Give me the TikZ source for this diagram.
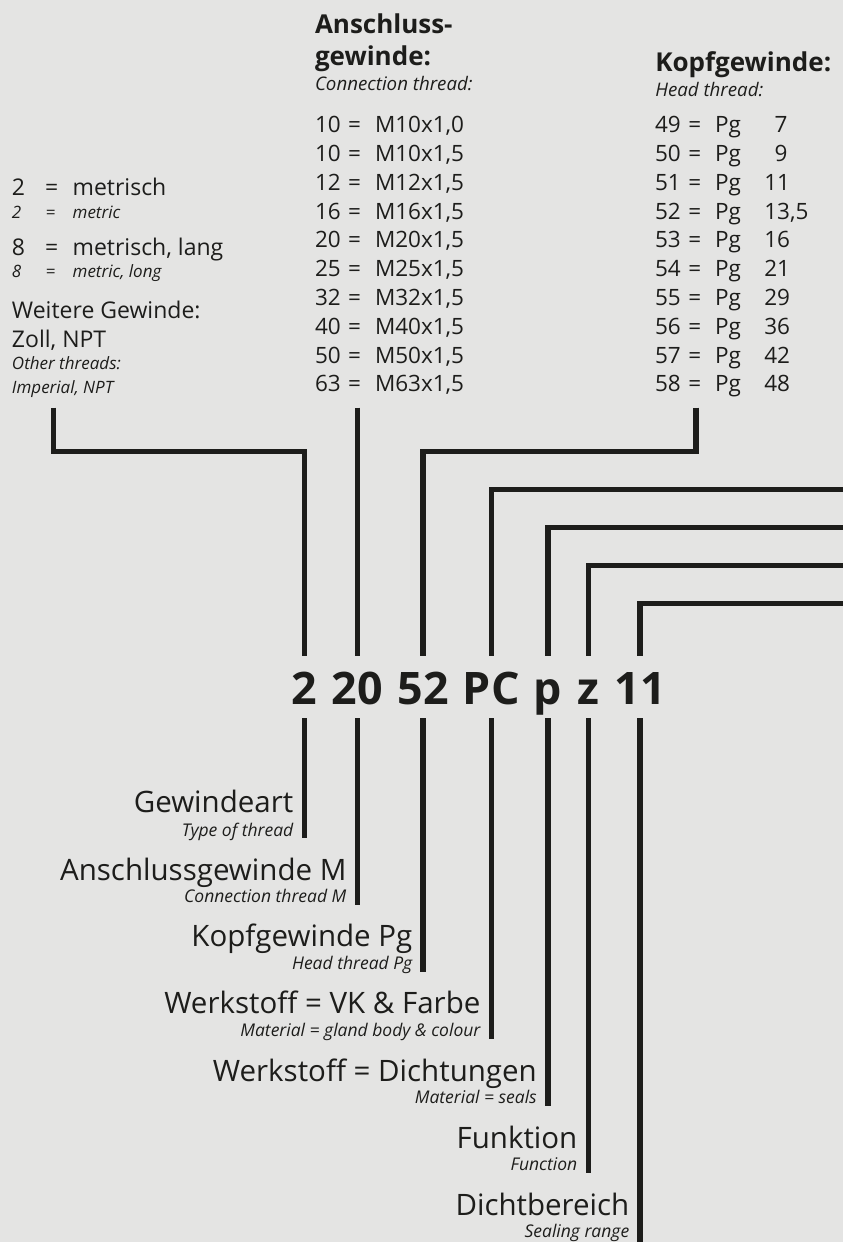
\documentclass[tikz,border=0pt]{standalone}
\usepackage{fontspec}
\setmainfont{Open Sans}
\definecolor{ink}{RGB}{29,29,27}
\definecolor{bgc}{RGB}{228,228,227}
\tikzset{
  conn/.style={draw=ink, line width=5.2pt, line join=miter, line cap=butt},
  txt/.style={inner sep=0pt, outer sep=0pt, text=ink, anchor=base west},
  codetok/.style={inner sep=0pt, text=ink, anchor=base, font=\fontsize{44.8}{50}\selectfont\bfseries},
  head/.style={txt, font=\fontsize{26}{30}\selectfont\bfseries},
  subhead/.style={txt, font=\fontsize{18.7}{22}\selectfont\itshape},
  listtxt/.style={txt, font=\fontsize{22.5}{26}\selectfont},
  leftmain/.style={txt, font=\fontsize{23}{27}\selectfont},
  leftit/.style={txt, font=\fontsize{17}{20}\selectfont\itshape},
  labmain/.style={inner sep=0pt, text=ink, anchor=base east, font=\fontsize{29.5}{33}\selectfont},
  labit/.style={inner sep=0pt, text=ink, anchor=base east, font=\fontsize{17.5}{20}\selectfont\itshape}
}
\begin{document}
\begin{tikzpicture}[x=1pt,y=-1pt]
\fill[bgc] (0,0) rectangle (843,1242);
\useasboundingbox (0,0) rectangle (843,1242);

% ---------- left block ----------
\node[leftmain] (l2a) at (12,195.7) {2};
\node[leftmain] (l2b) at (45,195.7) {=};
\node[leftmain] (l2c) at (72.7,195.7) {metrisch};
\node[leftit] (l2d) at (12,218.3) {2};
\node[leftit] (l2e) at (45.5,218.3) {=};
\node[leftit] (l2f) at (72.7,218.3) {metric};
\node[leftmain] (l8a) at (12,255) {8};
\node[leftmain] (l8b) at (45,255) {=};
\node[leftmain] (l8c) at (72.7,255) {metrisch, lang};
\node[leftit] (l8d) at (12,277.3) {8};
\node[leftit] (l8e) at (45.5,277.3) {=};
\node[leftit] (l8f) at (72.7,277.3) {metric, long};
\node[leftmain] (lw1) at (12,318.3) {Weitere Gewinde:};
\node[leftmain] (lw2) at (12,347.3) {Zoll, NPT};
\node[leftit] (lw3) at (12,369.3) {Other threads:};
\node[leftit] (lw4) at (12,393.3) {Imperial, NPT};

% ---------- middle block ----------
\node[head] (mh1) at (315,33.3) {Anschluss-};
\node[head] (mh2) at (315,65.7) {gewinde:};
\node[subhead] (mh3) at (315,90.7) {Connection thread:};
\foreach \i/\a/\b in {0/10/{M10x1,0}, 1/10/{M10x1,5}, 2/12/{M12x1,5}, 3/16/{M16x1,5}, 4/20/{M20x1,5},
                      5/25/{M25x1,5}, 6/32/{M32x1,5}, 7/40/{M40x1,5}, 8/50/{M50x1,5}, 9/63/{M63x1,5}}{
  \node[listtxt] (mn\i) at (315,132.7+\i*28.8) {\a};
  \node[listtxt] (me\i) at (348,132.7+\i*28.8) {=};
  \node[listtxt] (mv\i) at (375,132.7+\i*28.8) {\b};
}

% ---------- right block ----------
\node[head] (rh1) at (655.3,71.7) {Kopfgewinde:};
\node[subhead] (rh2) at (655.3,96.7) {Head thread:};
\foreach \i/\a in {0/49,1/50,2/51,3/52,4/53,5/54,6/55,7/56,8/57,9/58}{
  \node[listtxt] (rn\i) at (655,132.7+\i*28.8) {\a};
  \node[listtxt] (re\i) at (688.3,132.7+\i*28.8) {=};
  \node[listtxt] (rp\i) at (715,132.7+\i*28.8) {Pg};
}
\node[listtxt, anchor=base east] (rv0) at (787.5,132.7) {7};
\node[listtxt, anchor=base east] (rv1) at (787.5,161.5) {9};
\foreach \i/\b in {2/11,3/{13,5},4/16,5/21,6/29,7/36,8/42,9/48}{
  \node[listtxt] (rv\i) at (764.3,132.7+\i*28.8) {\b};
}

% ---------- code tokens ----------
\node[codetok] (t2)  at (304.2,704) {2};
\node[codetok] (t20) at (357.3,704) {20};
\node[codetok] (t52) at (423,704) {52};
\node[codetok] (tPC) at (491.3,704) {PC};
\node[codetok] (tp)  at (548,704) {p};
\node[codetok] (tz)  at (588.5,704) {z};
\node[codetok] (t11) at (640,704) {11};

% ---------- connector anchor points ----------
\coordinate (uL) at (53.3,407.7);
\coordinate (u20) at (357.3,407.7);
\coordinate (uR) at (696,407.7);
\coordinate (ePC) at (846,489.8);
\coordinate (ep) at (846,527.5);
\coordinate (ez) at (846,565.2);
\coordinate (e11) at (846,603.2);

% upper connectors
\draw[conn] (uL) |- (304.2,451.7) -- (t2.center |- 0,656);
\draw[conn] (u20) -- (t20.center |- 0,656);
\draw[conn] (uR) |- (423,451.7) -- (t52.center |- 0,656);
\draw[conn] (ePC) -| (tPC.center |- 0,656);
\draw[conn] (ep) -| (tp.center |- 0,656);
\draw[conn] (ez) -| (tz.center |- 0,656);
\draw[conn] (e11) -| (t11.center |- 0,656);

% ---------- lower labels ----------
\node[labmain] (g1) at (293.5,812.7) {Gewindeart};
\node[labit]   (g2) at (293.5,836.7) {Type of thread};
\node[labmain] (a1) at (346.6,880) {Anschlussgewinde M};
\node[labit]   (a2) at (346.6,902.7) {Connection thread M};
\node[labmain] (k1) at (412.5,946.7) {Kopfgewinde Pg};
\node[labit]   (k2) at (412.5,969.3) {Head thread Pg};
\node[labmain] (w1) at (480.6,1013.3) {Werkstoff = VK \& Farbe};
\node[labit]   (w2) at (480.6,1036) {Material = gland body \& colour};
\node[labmain] (d1) at (537,1081) {Werkstoff = Dichtungen};
\node[labit]   (d2) at (537,1103.3) {Material = seals};
\node[labmain] (f1) at (577.5,1148.3) {Funktion};
\node[labit]   (f2) at (577.5,1170.7) {Function};
\node[labmain] (s1) at (629.5,1215) {Dichtbereich};
\node[labit]   (s2) at (629.5,1237) {Sealing range};

% lower connectors
\draw[conn] (t2.center |- 0,718) -- (t2.center |- 0,837.5);
\draw[conn] (t20.center |- 0,718) -- (t20.center |- 0,904.5);
\draw[conn] (t52.center |- 0,718) -- (t52.center |- 0,971.5);
\draw[conn] (tPC.center |- 0,718) -- (tPC.center |- 0,1038.5);
\draw[conn] (tp.center |- 0,718) -- (tp.center |- 0,1105.5);
\draw[conn] (tz.center |- 0,718) -- (tz.center |- 0,1173);
\draw[conn] (t11.center |- 0,718) -- (t11.center |- 0,1246);
\end{tikzpicture}
\end{document}
